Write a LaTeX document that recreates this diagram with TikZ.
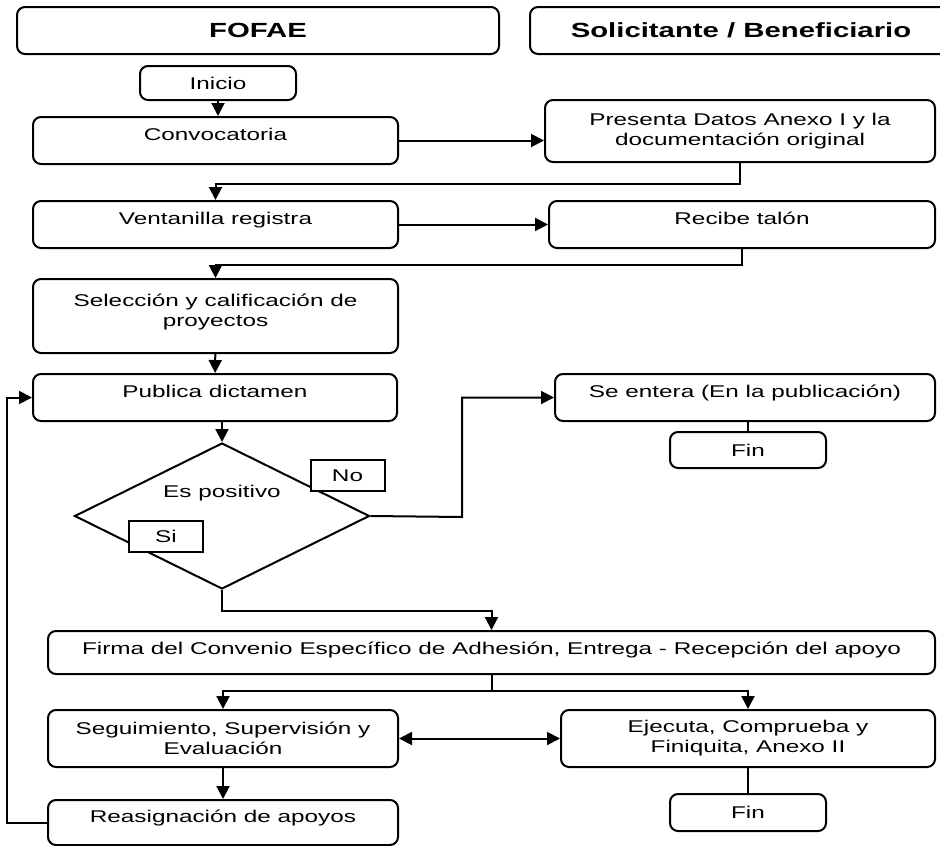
\documentclass[tikz,border=0pt]{standalone}
\usepackage{fontspec}
\setmainfont[FakeStretch=1.43]{Liberation Sans}
\usetikzlibrary{shapes.geometric,arrows.meta}

\begin{document}
\begin{tikzpicture}[x=1pt, y=-1pt, line width=2pt,
    font=\fontsize{17}{20}\selectfont,
    caja/.style={draw, rounded corners=8pt, align=center, inner sep=2pt},
    subir/.style={caja, text depth=12pt},
    titulo/.style={caja, minimum height=47pt, font=\fontsize{20.5}{24}\selectfont\bfseries},
    etiq/.style={draw, fill=white, minimum width=74pt, minimum height=31pt, inner sep=0pt},
    flecha/.style={-{Triangle[length=13pt,width=13pt]}},
    doble/.style={{Triangle[length=13pt,width=13pt]}-{Triangle[length=13pt,width=13pt]}}]
    \useasboundingbox (0,0) rectangle (940,846);
    \clip (0,0) rectangle (940,846);
    % encabezados
    \node[titulo, minimum width=482pt] (fofae) at (258,30.5) {FOFAE};
    \node[titulo, minimum width=422pt] (solic) at (741,30.5) {Solicitante / Beneficiario};
    % columna FOFAE
    \node[caja, minimum width=156pt, minimum height=34pt] (inicio) at (218,83) {Inicio};
    \node[subir, minimum width=365pt, minimum height=47pt] (conv) at (215.5,140.5) {Convocatoria};
    \node[subir, minimum width=365pt, minimum height=47pt] (vent) at (215.5,224.5) {Ventanilla registra};
    \node[subir, minimum width=365pt, minimum height=74pt] (selec) at (215.5,316) {Selección y calificación de\\proyectos};
    \node[subir, minimum width=364pt, minimum height=47pt] (publica) at (215,397.5) {Publica dictamen};
    \node[draw, diamond, minimum width=295pt, minimum height=146pt, inner sep=0pt] (dec) at (222,516) {};
    \node (espos) at (222,493) {Es positivo};
    \node[etiq] (no) at (347.5,475.5) {No};
    \node[etiq] (si) at (166,536) {Si};
    \node[subir, text depth=9pt, minimum width=887pt, minimum height=43pt] (firma) at (491.5,652.5) {Firma del Convenio Específico de Adhesión, Entrega - Recepción del apoyo};
    \node[caja, minimum width=350pt, minimum height=57pt] (seg) at (223,738.5) {Seguimiento, Supervisión y\\Evaluación};
    \node[subir, minimum width=350pt, minimum height=45pt] (reasig) at (223,822.5) {Reasignación de apoyos};
    % columna solicitante
    \node[caja, minimum width=390pt, minimum height=62pt] (pres) at (740,131) {Presenta Datos Anexo I y la\\documentación original};
    \node[subir, minimum width=386pt, minimum height=47pt] (recibe) at (742,224.5) {Recibe talón};
    \node[subir, minimum width=380pt, minimum height=47pt] (entera) at (745,397.5) {Se entera (En la publicación)};
    \node[caja, minimum width=156pt, minimum height=36pt] (fin1) at (748,450) {Fin};
    \node[caja, minimum width=374pt, minimum height=57pt] (ejec) at (748,738.5) {Ejecuta, Comprueba y\\Finiquita, Anexo II};
    \node[caja, minimum width=156pt, minimum height=37pt] (fin2) at (748,812.5) {Fin};
    % conexiones
    \coordinate (codoNo) at (462,517);
    \coordinate (rama) at (492,691);
    \draw[flecha] (inicio.south) -- (inicio.south |- conv.north);
    \draw[flecha] (conv.east) -- (conv.east -| pres.west);
    \draw[flecha] (pres.south) -- ++(0,21) -| (vent.north);
    \draw[flecha] (vent.east) -- (vent.east -| recibe.west);
    \draw[flecha] (recibe.south) -- ++(0,16) -| (selec.north);
    \draw[flecha] (selec) -- (publica);
    \draw[flecha] (publica.south -| dec.north) -- (dec.north);
    \draw[flecha] (dec.east) -- (codoNo) |- (entera.west);
    \draw (fin1.north) -- (fin1.north |- entera.south);
    \draw[flecha] (dec.south) -- ++(0,21) -| (firma.north);
    \draw (firma.south -| rama) -- (rama);
    \draw[flecha] (rama) -| (seg.north);
    \draw[flecha] (rama) -| (ejec.north);
    \draw[doble] (seg.east) -- (ejec.west);
    \draw[flecha] (seg) -- (reasig);
    \draw (ejec) -- (fin2);
    \draw[flecha] (reasig.west) -- ++(-40,0) |- (publica.west);
\end{tikzpicture}
\end{document}
